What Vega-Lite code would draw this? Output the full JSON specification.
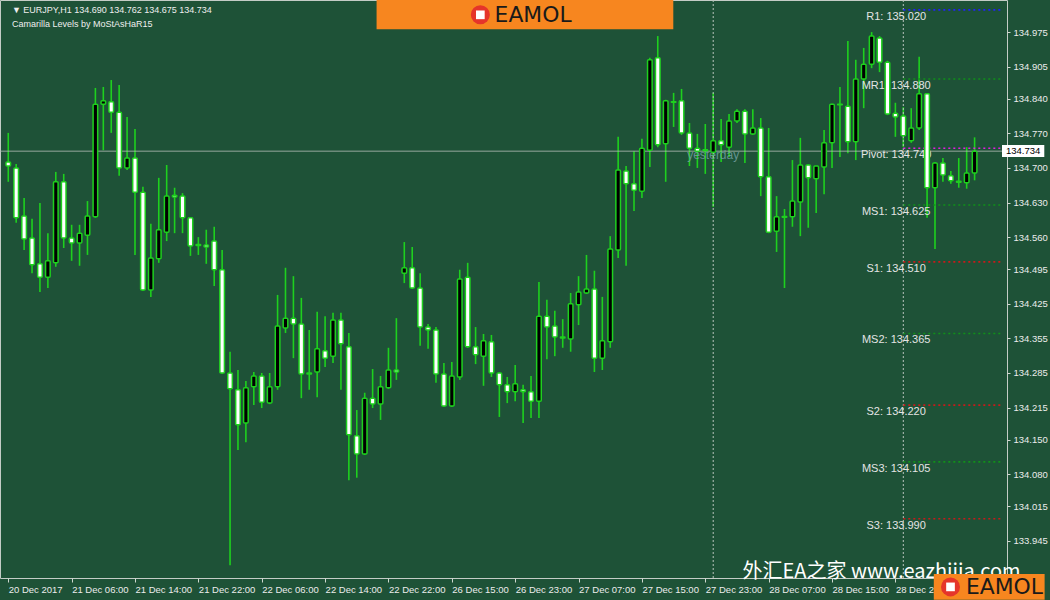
{
"$schema": "https://vega.github.io/schema/vega-lite/v6.json",
"width": 1007, "height": 578,
"autosize": {"type": "none"},
"padding": {"left": 0, "top": 0, "right": 43, "bottom": 22},
"background": "#1e5237",
"config": {
  "view": {"stroke": "#c4ccc6", "strokeWidth": 1},
  "axis": {"labelFont": "Liberation Sans", "labelColor": "#ececec", "tickColor": "#d0d8d0", "grid": false, "domain": false, "title": null, "labelOverlap": false, "labelFlush": false, "labelBound": false}
},
"resolve": {"axis": {"x": "independent", "y": "independent"}},
"datasets": {
"candles": [
{"i":0,"o":134.712,"h":134.771,"l":134.672,"c":134.704},
{"i":1,"o":134.700,"h":134.708,"l":134.589,"c":134.599},
{"i":2,"o":134.603,"h":134.639,"l":134.534,"c":134.556},
{"i":3,"o":134.558,"h":134.597,"l":134.487,"c":134.504},
{"i":4,"o":134.506,"h":134.629,"l":134.449,"c":134.479},
{"i":5,"o":134.479,"h":134.568,"l":134.457,"c":134.512},
{"i":6,"o":134.508,"h":134.692,"l":134.500,"c":134.672},
{"i":7,"o":134.672,"h":134.688,"l":134.538,"c":134.558},
{"i":8,"o":134.558,"h":134.585,"l":134.512,"c":134.548},
{"i":9,"o":134.548,"h":134.585,"l":134.502,"c":134.568},
{"i":10,"o":134.564,"h":134.633,"l":134.524,"c":134.603},
{"i":11,"o":134.601,"h":134.862,"l":134.599,"c":134.829},
{"i":12,"o":134.829,"h":134.864,"l":134.736,"c":134.836},
{"i":13,"o":134.834,"h":134.878,"l":134.771,"c":134.813},
{"i":14,"o":134.813,"h":134.868,"l":134.684,"c":134.700},
{"i":15,"o":134.700,"h":134.803,"l":134.696,"c":134.720},
{"i":16,"o":134.720,"h":134.779,"l":134.524,"c":134.651},
{"i":17,"o":134.651,"h":134.662,"l":134.451,"c":134.453},
{"i":18,"o":134.453,"h":134.587,"l":134.439,"c":134.518},
{"i":19,"o":134.516,"h":134.680,"l":134.508,"c":134.575},
{"i":20,"o":134.570,"h":134.706,"l":134.552,"c":134.643},
{"i":21,"o":134.645,"h":134.660,"l":134.568,"c":134.641},
{"i":22,"o":134.643,"h":134.649,"l":134.568,"c":134.599},
{"i":23,"o":134.599,"h":134.600,"l":134.522,"c":134.542},
{"i":24,"o":134.545,"h":134.560,"l":134.524,"c":134.543},
{"i":25,"o":134.544,"h":134.575,"l":134.506,"c":134.540},
{"i":26,"o":134.552,"h":134.581,"l":134.461,"c":134.494},
{"i":27,"o":134.494,"h":134.534,"l":134.283,"c":134.285},
{"i":28,"o":134.285,"h":134.328,"l":133.896,"c":134.253},
{"i":29,"o":134.251,"h":134.291,"l":134.129,"c":134.180},
{"i":30,"o":134.184,"h":134.269,"l":134.145,"c":134.255},
{"i":31,"o":134.257,"h":134.287,"l":134.220,"c":134.279},
{"i":32,"o":134.279,"h":134.285,"l":134.214,"c":134.226},
{"i":33,"o":134.224,"h":134.285,"l":134.222,"c":134.257},
{"i":34,"o":134.257,"h":134.443,"l":134.251,"c":134.380},
{"i":35,"o":134.376,"h":134.498,"l":134.366,"c":134.396},
{"i":36,"o":134.396,"h":134.481,"l":134.315,"c":134.384},
{"i":37,"o":134.384,"h":134.437,"l":134.234,"c":134.283},
{"i":38,"o":134.285,"h":134.372,"l":134.251,"c":134.283},
{"i":39,"o":134.287,"h":134.409,"l":134.236,"c":134.334},
{"i":40,"o":134.330,"h":134.400,"l":134.297,"c":134.315},
{"i":41,"o":134.319,"h":134.407,"l":134.305,"c":134.392},
{"i":42,"o":134.392,"h":134.407,"l":134.251,"c":134.344},
{"i":43,"o":134.338,"h":134.366,"l":134.068,"c":134.160},
{"i":44,"o":134.158,"h":134.210,"l":134.073,"c":134.121},
{"i":45,"o":134.121,"h":134.245,"l":134.119,"c":134.234},
{"i":46,"o":134.234,"h":134.293,"l":134.214,"c":134.222},
{"i":47,"o":134.222,"h":134.279,"l":134.190,"c":134.257},
{"i":48,"o":134.255,"h":134.336,"l":134.253,"c":134.291},
{"i":49,"o":134.291,"h":134.396,"l":134.271,"c":134.287},
{"i":50,"o":134.487,"h":134.550,"l":134.467,"c":134.498},
{"i":51,"o":134.498,"h":134.540,"l":134.455,"c":134.457},
{"i":52,"o":134.457,"h":134.487,"l":134.340,"c":134.378},
{"i":53,"o":134.378,"h":134.384,"l":134.334,"c":134.372},
{"i":54,"o":134.372,"h":134.378,"l":134.265,"c":134.283},
{"i":55,"o":134.283,"h":134.305,"l":134.216,"c":134.218},
{"i":56,"o":134.218,"h":134.307,"l":134.216,"c":134.279},
{"i":57,"o":134.277,"h":134.494,"l":134.271,"c":134.475},
{"i":58,"o":134.479,"h":134.508,"l":134.336,"c":134.338},
{"i":59,"o":134.338,"h":134.378,"l":134.303,"c":134.322},
{"i":60,"o":134.319,"h":134.364,"l":134.259,"c":134.350},
{"i":61,"o":134.348,"h":134.362,"l":134.277,"c":134.285},
{"i":62,"o":134.285,"h":134.286,"l":134.196,"c":134.261},
{"i":63,"o":134.261,"h":134.277,"l":134.224,"c":134.247},
{"i":64,"o":134.247,"h":134.301,"l":134.228,"c":134.263},
{"i":65,"o":134.251,"h":134.261,"l":134.184,"c":134.247},
{"i":66,"o":134.247,"h":134.279,"l":134.194,"c":134.228},
{"i":67,"o":134.228,"h":134.469,"l":134.194,"c":134.400},
{"i":68,"o":134.400,"h":134.433,"l":134.313,"c":134.378},
{"i":69,"o":134.380,"h":134.411,"l":134.319,"c":134.358},
{"i":70,"o":134.358,"h":134.394,"l":134.336,"c":134.356},
{"i":71,"o":134.354,"h":134.447,"l":134.328,"c":134.425},
{"i":72,"o":134.423,"h":134.481,"l":134.382,"c":134.449},
{"i":73,"o":134.447,"h":134.524,"l":134.445,"c":134.455},
{"i":74,"o":134.455,"h":134.492,"l":134.287,"c":134.315},
{"i":75,"o":134.315,"h":134.439,"l":134.291,"c":134.350},
{"i":76,"o":134.348,"h":134.562,"l":134.336,"c":134.536},
{"i":77,"o":134.534,"h":134.763,"l":134.518,"c":134.696},
{"i":78,"o":134.694,"h":134.704,"l":134.502,"c":134.668},
{"i":79,"o":134.668,"h":134.734,"l":134.613,"c":134.655},
{"i":80,"o":134.653,"h":134.759,"l":134.639,"c":134.740},
{"i":81,"o":134.736,"h":134.923,"l":134.702,"c":134.919},
{"i":82,"o":134.923,"h":134.967,"l":134.742,"c":134.747},
{"i":83,"o":134.749,"h":134.838,"l":134.672,"c":134.836},
{"i":84,"o":134.834,"h":134.852,"l":134.783,"c":134.833},
{"i":85,"o":134.836,"h":134.860,"l":134.767,"c":134.771},
{"i":86,"o":134.771,"h":134.791,"l":134.704,"c":134.740},
{"i":87,"o":134.740,"h":134.769,"l":134.700,"c":134.734},
{"i":88,"o":134.737,"h":134.789,"l":134.688,"c":134.735},
{"i":89,"o":134.732,"h":134.852,"l":134.621,"c":134.755},
{"i":90,"o":134.755,"h":134.799,"l":134.712,"c":134.747},
{"i":91,"o":134.742,"h":134.809,"l":134.722,"c":134.795},
{"i":92,"o":134.795,"h":134.819,"l":134.791,"c":134.815},
{"i":93,"o":134.815,"h":134.819,"l":134.710,"c":134.769},
{"i":94,"o":134.769,"h":134.819,"l":134.767,"c":134.781},
{"i":95,"o":134.781,"h":134.801,"l":134.643,"c":134.682},
{"i":96,"o":134.682,"h":134.781,"l":134.568,"c":134.570},
{"i":97,"o":134.572,"h":134.643,"l":134.530,"c":134.601},
{"i":98,"o":134.602,"h":134.617,"l":134.457,"c":134.600},
{"i":99,"o":134.601,"h":134.716,"l":134.581,"c":134.633},
{"i":100,"o":134.631,"h":134.761,"l":134.562,"c":134.706},
{"i":101,"o":134.706,"h":134.707,"l":134.579,"c":134.680},
{"i":102,"o":134.678,"h":134.704,"l":134.609,"c":134.704},
{"i":103,"o":134.702,"h":134.777,"l":134.647,"c":134.751},
{"i":104,"o":134.751,"h":134.830,"l":134.700,"c":134.829},
{"i":105,"o":134.829,"h":134.864,"l":134.722,"c":134.828},
{"i":106,"o":134.825,"h":134.957,"l":134.730,"c":134.753},
{"i":107,"o":134.753,"h":134.919,"l":134.716,"c":134.880},
{"i":108,"o":134.880,"h":134.943,"l":134.821,"c":134.910},
{"i":109,"o":134.910,"h":134.975,"l":134.902,"c":134.967},
{"i":110,"o":134.963,"h":134.967,"l":134.894,"c":134.914},
{"i":111,"o":134.914,"h":134.917,"l":134.807,"c":134.809},
{"i":112,"o":134.811,"h":134.832,"l":134.763,"c":134.803},
{"i":113,"o":134.805,"h":134.823,"l":134.742,"c":134.765},
{"i":114,"o":134.755,"h":134.821,"l":134.751,"c":134.781},
{"i":115,"o":134.781,"h":134.925,"l":134.777,"c":134.850},
{"i":116,"o":134.850,"h":134.851,"l":134.599,"c":134.660},
{"i":117,"o":134.660,"h":134.712,"l":134.536,"c":134.710},
{"i":118,"o":134.710,"h":134.720,"l":134.672,"c":134.686},
{"i":119,"o":134.684,"h":134.694,"l":134.668,"c":134.674},
{"i":120,"o":134.671,"h":134.720,"l":134.660,"c":134.673},
{"i":121,"o":134.670,"h":134.742,"l":134.658,"c":134.690},
{"i":122,"o":134.690,"h":134.762,"l":134.675,"c":134.734}
],
"levels": [
{"name":"R1","kind":"R","level":135.020,"label":"R1: 135.020"},
{"name":"MR1","kind":"M","level":134.880,"label":"MR1: 134.880"},
{"name":"Pivot","kind":"P","level":134.740,"label":"Pivot: 134.740"},
{"name":"MS1","kind":"M","level":134.625,"label":"MS1: 134.625"},
{"name":"S1","kind":"S","level":134.510,"label":"S1: 134.510"},
{"name":"MS2","kind":"M","level":134.365,"label":"MS2: 134.365"},
{"name":"S2","kind":"S","level":134.220,"label":"S2: 134.220"},
{"name":"MS3","kind":"M","level":134.105,"label":"MS3: 134.105"},
{"name":"S3","kind":"S","level":133.990,"label":"S3: 133.990"}
]
},
"layer": [
{
  "data": {"name": "candles"},
  "mark": {"type": "rule", "color": "#1ed01e", "strokeWidth": 1.6},
  "encoding": {
    "x": {"field": "i", "type": "quantitative", "scale": {"domain": [-0.4125, 125.46], "nice": false, "zero": false},
      "axis": {"orient": "bottom", "values": [0,8,16,24,32,40,48,56,64,72,80,88,96,104,112],
        "labelExpr": "['20 Dec 2017','21 Dec 06:00','21 Dec 14:00','21 Dec 22:00','22 Dec 06:00','22 Dec 14:00','22 Dec 22:00','26 Dec 15:00','26 Dec 23:00','27 Dec 07:00','27 Dec 15:00','27 Dec 23:00','28 Dec 07:00','28 Dec 15:00','28 Dec 23:00'][round(datum.value/8)]",
        "labelAlign": "left", "labelBaseline": "top", "labelPadding": 2, "tickSize": 4, "labelFontSize": 9.5, "labelFlush": false, "labelOverlap": false, "labelBound": false}},
    "y": {"field": "l", "type": "quantitative", "scale": {"domain": [133.87, 135.04], "nice": false, "zero": false},
      "axis": {"orient": "right", "values": [134.975,134.905,134.840,134.770,134.700,134.630,134.560,134.495,134.425,134.355,134.285,134.215,134.150,134.080,134.015,133.945],
        "format": ".3f", "tickSize": 3, "labelPadding": 3, "labelFontSize": 9.5, "labelOverlap": false, "labelFlush": false, "labelBound": false}},
    "y2": {"field": "h"}
  }
},
{
  "data": {"values": [{}]},
  "mark": {"type": "rule", "color": "#b4bdb7", "strokeWidth": 1, "opacity": 0.8},
  "encoding": {"y": {"datum": 134.734, "type": "quantitative", "scale": {"domain": [133.87, 135.04], "nice": false, "zero": false}, "axis": null}}
},
{
  "data": {"values": [{"d": 89}, {"d": 113}]},
  "mark": {"type": "rule", "color": "#b8c4bc", "strokeWidth": 1, "strokeDash": [2, 2]},
  "encoding": {"x": {"field": "d", "type": "quantitative", "scale": {"domain": [-0.4125, 125.46], "nice": false, "zero": false}, "axis": null}}
},
{
  "data": {"name": "levels"},
  "mark": {"type": "rule", "strokeWidth": 1.6, "strokeDash": [2, 3]},
  "encoding": {
    "x": {"datum": 113, "type": "quantitative", "scale": {"domain": [-0.4125, 125.46], "nice": false, "zero": false}, "axis": null},
    "x2": {"datum": 125.46},
    "y": {"field": "level", "type": "quantitative", "scale": {"domain": [133.87, 135.04], "nice": false, "zero": false}, "axis": null},
    "color": {"field": "kind", "type": "nominal", "legend": null, "scale": {"domain": ["R", "M", "P", "S"], "range": ["#2020ff", "#11901a", "#e020e0", "#c81a1a"]}}
  }
},
{
  "data": {"name": "levels"},
  "mark": {"type": "text", "align": "center", "baseline": "middle", "dy": 7, "fontSize": 11, "font": "Liberation Sans", "color": "#e4e4e4"},
  "encoding": {
    "x": {"datum": 112.1, "type": "quantitative", "scale": {"domain": [-0.4125, 125.46], "nice": false, "zero": false}, "axis": null},
    "y": {"field": "level", "type": "quantitative", "scale": {"domain": [133.87, 135.04], "nice": false, "zero": false}, "axis": null},
    "text": {"field": "label"}
  }
},
{
  "data": {"values": [{"t": "yesterday"}]},
  "mark": {"type": "text", "align": "center", "baseline": "middle", "dy": 4, "fontSize": 12, "font": "Liberation Sans", "color": "#76a2a6", "opacity": 0.8},
  "encoding": {
    "x": {"datum": 89, "type": "quantitative", "scale": {"domain": [-0.4125, 125.46], "nice": false, "zero": false}, "axis": null},
    "y": {"datum": 134.734, "type": "quantitative", "scale": {"domain": [133.87, 135.04], "nice": false, "zero": false}, "axis": null},
    "text": {"field": "t"}
  }
},
{
  "data": {"name": "candles"},
  "mark": {"type": "bar", "width": 4.6, "stroke": "#1ed01e", "strokeWidth": 1.5, "cornerRadius": 1},
  "encoding": {
    "x": {"field": "i", "type": "quantitative", "scale": {"domain": [-0.4125, 125.46], "nice": false, "zero": false}, "axis": null},
    "y": {"field": "o", "type": "quantitative", "scale": {"domain": [133.87, 135.04], "nice": false, "zero": false}, "axis": null},
    "y2": {"field": "c"},
    "color": {"condition": {"test": "datum.c > datum.o", "value": "#000000"}, "value": "#ffffff"}
  }
},
{
  "data": {"values": [{}]},
  "mark": {"type": "rect", "color": "#ffffff"},
  "encoding": {
    "x": {"datum": 125.46, "type": "quantitative", "scale": {"domain": [-0.4125, 125.46], "nice": false, "zero": false}, "axis": null},
    "x2": {"datum": 130.8},
    "y": {"datum": 134.7465, "type": "quantitative", "scale": {"domain": [133.87, 135.04], "nice": false, "zero": false}, "axis": null},
    "y2": {"datum": 134.722}
  }
},
{
  "data": {"values": [{"t": "134.734"}]},
  "mark": {"type": "text", "align": "left", "baseline": "middle", "dx": 4, "fontSize": 9.5, "font": "Liberation Sans", "color": "#000000"},
  "encoding": {
    "x": {"datum": 125.46, "type": "quantitative", "scale": {"domain": [-0.4125, 125.46], "nice": false, "zero": false}, "axis": null},
    "y": {"datum": 134.734, "type": "quantitative", "scale": {"domain": [133.87, 135.04], "nice": false, "zero": false}, "axis": null},
    "text": {"field": "t"}
  }
},
{
  "data": {"values": [{"t": "▼ EURJPY,H1  134.690 134.762 134.675 134.734", "p": 135.0188}, {"t": "Camarilla Levels by MoStAsHaR15", "p": 134.9914}]},
  "mark": {"type": "text", "align": "left", "baseline": "middle", "fontSize": 9, "font": "Liberation Sans", "color": "#eeeeee"},
  "encoding": {
    "x": {"datum": 0.46, "type": "quantitative", "scale": {"domain": [-0.4125, 125.46], "nice": false, "zero": false}, "axis": null},
    "y": {"field": "p", "type": "quantitative", "scale": {"domain": [133.87, 135.04], "nice": false, "zero": false}, "axis": null},
    "text": {"field": "t"}
  }
},
{
  "data": {"values": [{"t": "外汇EA之家 www.eazhijia.com"}]},
  "mark": {"type": "text", "align": "left", "baseline": "middle", "fontSize": 20, "font": "Noto Sans CJK SC", "color": "#ffffff"},
  "encoding": {
    "x": {"datum": 92.7, "type": "quantitative", "scale": {"domain": [-0.4125, 125.46], "nice": false, "zero": false}, "axis": null},
    "y": {"datum": 133.882, "type": "quantitative", "scale": {"domain": [133.87, 135.04], "nice": false, "zero": false}, "axis": null},
    "text": {"field": "t"}
  }
},
{
  "data": {"values": [{"x1": 46.5, "x2": 83.96, "y1": 135.04, "y2": 134.981}, {"x1": 116.85, "x2": 130.84, "y1": 133.878, "y2": 133.826}]},
  "mark": {"type": "rect", "color": "#f7861f"},
  "encoding": {
    "x": {"field": "x1", "type": "quantitative", "scale": {"domain": [-0.4125, 125.46], "nice": false, "zero": false}, "axis": null},
    "x2": {"field": "x2"},
    "y": {"field": "y1", "type": "quantitative", "scale": {"domain": [133.87, 135.04], "nice": false, "zero": false}, "axis": null},
    "y2": {"field": "y2"}
  }
},
{
  "data": {"values": [{"x": 59.6, "y": 135.010, "s": 300}, {"x": 118.96, "y": 133.852, "s": 300}]},
  "mark": {"type": "point", "filled": true, "shape": "circle", "color": "#e5352a", "opacity": 1},
  "encoding": {
    "x": {"field": "x", "type": "quantitative", "scale": {"domain": [-0.4125, 125.46], "nice": false, "zero": false}, "axis": null},
    "y": {"field": "y", "type": "quantitative", "scale": {"domain": [133.87, 135.04], "nice": false, "zero": false}, "axis": null},
    "size": {"field": "s", "type": "quantitative", "legend": null, "scale": {"type": "identity"}}
  }
},
{
  "data": {"values": [{"x": 59.6, "y": 135.010, "s": 60}, {"x": 118.96, "y": 133.852, "s": 60}]},
  "mark": {"type": "point", "filled": true, "shape": "square", "color": "#ffffff", "opacity": 1},
  "encoding": {
    "x": {"field": "x", "type": "quantitative", "scale": {"domain": [-0.4125, 125.46], "nice": false, "zero": false}, "axis": null},
    "y": {"field": "y", "type": "quantitative", "scale": {"domain": [133.87, 135.04], "nice": false, "zero": false}, "axis": null},
    "size": {"field": "s", "type": "quantitative", "legend": null, "scale": {"type": "identity"}}
  }
},
{
  "data": {"values": [{"t": "EAMOL", "x": 61.4, "y": 135.0096, "f": 15}, {"t": "EAMOL", "x": 120.9, "y": 133.851, "f": 15}]},
  "mark": {"type": "text", "align": "left", "baseline": "middle", "font": "DejaVu Sans", "color": "#1a1a1a"},
  "encoding": {
    "x": {"field": "x", "type": "quantitative", "scale": {"domain": [-0.4125, 125.46], "nice": false, "zero": false}, "axis": null},
    "y": {"field": "y", "type": "quantitative", "scale": {"domain": [133.87, 135.04], "nice": false, "zero": false}, "axis": null},
    "size": {"field": "f", "type": "quantitative", "legend": null, "scale": {"type": "identity"}},
    "text": {"field": "t"}
  }
}
]
}
